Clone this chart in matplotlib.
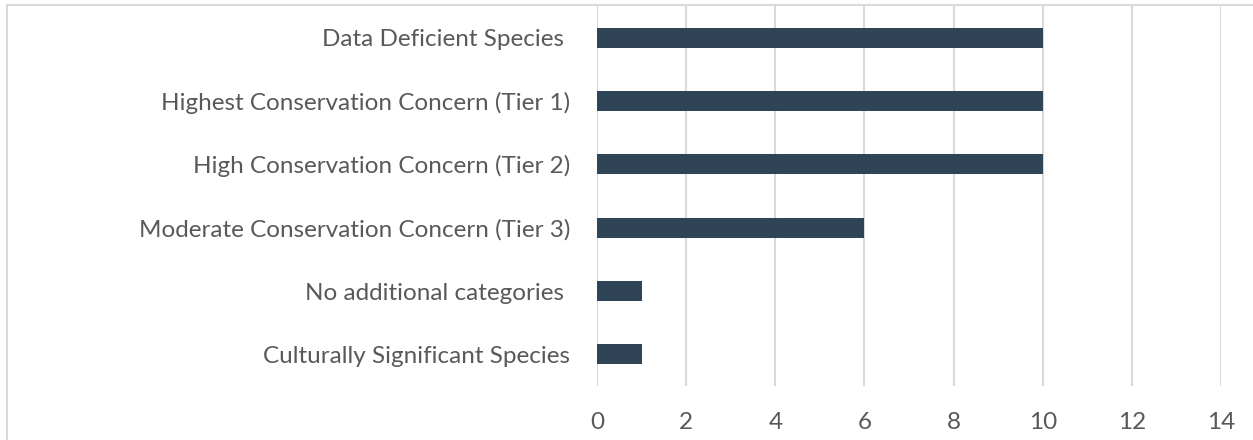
import matplotlib
matplotlib.use("Agg")
import matplotlib.pyplot as plt
from matplotlib.lines import Line2D

categories = [
    "Data Deficient Species ",
    "Highest Conservation Concern (Tier 1)",
    "High Conservation Concern (Tier 2)",
    "Moderate Conservation Concern (Tier 3)",
    "No additional categories ",
    "Culturally Significant Species",
]
counts = [10, 10, 10, 6, 1, 1]
xticks = [0, 2, 4, 6, 8, 10, 12, 14]

W, H = 1253, 440
fig = plt.figure(figsize=(W / 100, H / 100), dpi=100)
plt.rcParams["font.family"] = ["Lato", "DejaVu Sans"]

left, right, top, bottom = 597, 1221, 6, 386
ax = fig.add_axes([left / W, 1 - bottom / H, (right - left) / W, (bottom - top) / H])

ypos = list(range(len(categories)))
ax.barh(ypos, counts, height=0.32, color="#2F4457", zorder=3)
ax.set_ylim(len(categories) - 0.5, -0.5)
ax.set_xlim(0, 14)
ax.set_xticks(xticks)
ax.set_xticklabels([str(t) for t in xticks])
ax.set_yticks(ypos)
ax.set_yticklabels(categories)

ax.grid(axis="x", color="#D9D9D9", linewidth=1.5, zorder=0)
for s in ax.spines.values():
    s.set_visible(False)
ax.tick_params(axis="both", length=0, colors="#595959", labelsize=17.5)
ax.tick_params(axis="y", pad=19.5)
ax.tick_params(axis="x", pad=19)

# outer frame (top and left edges)
fig.add_artist(Line2D([6.5 / W, 1], [1 - 5.5 / H, 1 - 5.5 / H], color="#D9D9D9",
                      linewidth=1.5, transform=fig.transFigure))
fig.add_artist(Line2D([6.5 / W, 6.5 / W], [0, 1 - 5.5 / H], color="#D9D9D9",
                      linewidth=1.5, transform=fig.transFigure))

fig.savefig("out.png", dpi=100, facecolor="white")
